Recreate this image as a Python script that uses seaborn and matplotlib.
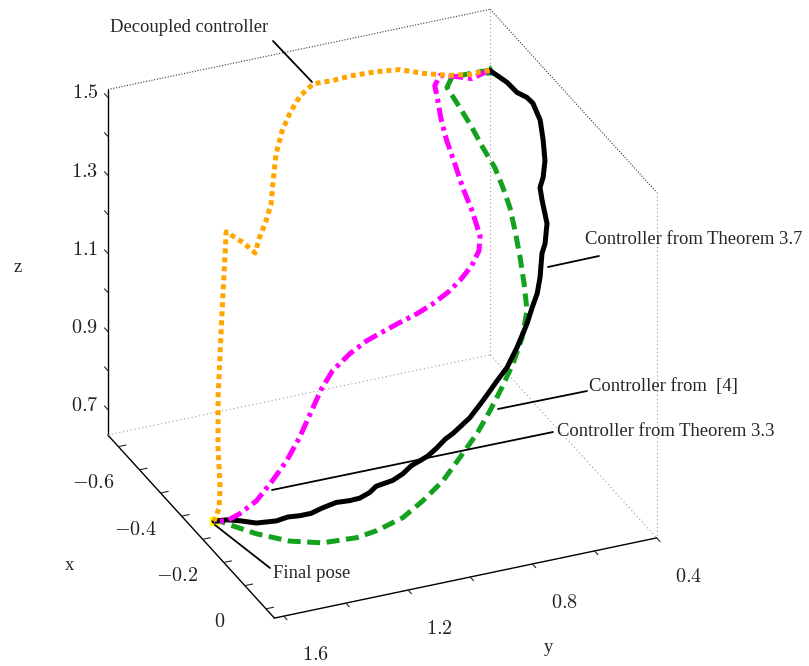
import matplotlib
matplotlib.use("Agg")
import matplotlib.pyplot as plt
from matplotlib.lines import Line2D
from mpl_toolkits.mplot3d import proj3d
import pandas as pd
import seaborn as sns

# ---- trajectories (x, y, z) from the start pose to the final pose ----
start_pose = (-0.65, 0.47, 1.435)
final_pose = (-0.35, 1.56, 0.64)

decoupled_x = [-0.65, -0.65, -0.65, -0.65, -0.65, -0.65, -0.65, -0.65, -0.65, -0.63,
               -0.61, -0.59, -0.57, -0.55, -0.53, -0.51, -0.49, -0.47, -0.45, -0.45,
               -0.45, -0.44, -0.43, -0.42, -0.40, -0.38, -0.37, -0.36, -0.35]
decoupled_y = [0.47, 0.533, 0.598, 0.685, 0.759, 0.833, 0.911, 0.975, 1.037, 1.093,
               1.138, 1.178, 1.211, 1.234, 1.254, 1.284, 1.320, 1.346, 1.398, 1.453,
               1.456, 1.469, 1.483, 1.499, 1.513, 1.520, 1.530, 1.545, 1.56]
decoupled_z = [1.435, 1.435, 1.443, 1.463, 1.485, 1.492, 1.495, 1.493, 1.495, 1.485,
               1.463, 1.433, 1.392, 1.338, 1.295, 1.268, 1.240, 1.220, 1.267, 1.304,
               1.254, 1.168, 1.061, 0.909, 0.794, 0.699, 0.656, 0.648, 0.64]

thm33_x = [-0.65, -0.65, -0.65, -0.65, -0.65, -0.64, -0.63, -0.62, -0.61, -0.60,
           -0.59, -0.58, -0.57, -0.56, -0.55, -0.54, -0.53, -0.52, -0.51, -0.50,
           -0.49, -0.48, -0.47, -0.46, -0.45, -0.44, -0.42, -0.40, -0.37, -0.35,
           -0.34, -0.35]
thm33_y = [0.47, 0.527, 0.582, 0.630, 0.646, 0.643, 0.640, 0.628, 0.609, 0.590,
           0.567, 0.548, 0.558, 0.588, 0.633, 0.679, 0.734, 0.792, 0.854, 0.909,
           0.974, 1.035, 1.097, 1.139, 1.178, 1.224, 1.279, 1.338, 1.410, 1.478,
           1.527, 1.56]
thm33_z = [1.435, 1.423, 1.438, 1.448, 1.425, 1.392, 1.352, 1.299, 1.243, 1.184,
           1.127, 1.066, 1.035, 1.008, 0.983, 0.966, 0.952, 0.942, 0.936, 0.930,
           0.921, 0.904, 0.877, 0.844, 0.800, 0.744, 0.706, 0.677, 0.655, 0.645,
           0.641, 0.64]

ref4_x = [-0.65, -0.65, -0.65, -0.65, -0.64, -0.63, -0.62, -0.61, -0.60, -0.58,
          -0.56, -0.54, -0.52, -0.50, -0.47, -0.44, -0.41, -0.38, -0.35, -0.30,
          -0.25, -0.20, -0.15, -0.11, -0.09, -0.09, -0.13, -0.20, -0.28, -0.33,
          -0.35]
ref4_y = [0.47, 0.533, 0.591, 0.607, 0.572, 0.540, 0.512, 0.480, 0.461, 0.452,
          0.449, 0.446, 0.447, 0.451, 0.487, 0.537, 0.593, 0.652, 0.714, 0.803,
          0.891, 0.990, 1.088, 1.199, 1.277, 1.387, 1.466, 1.525, 1.548, 1.556,
          1.56]
ref4_z = [1.435, 1.437, 1.437, 1.414, 1.362, 1.312, 1.262, 1.211, 1.163, 1.122,
          1.074, 1.016, 0.962, 0.905, 0.860, 0.819, 0.785, 0.753, 0.723, 0.706,
          0.691, 0.686, 0.689, 0.698, 0.705, 0.710, 0.704, 0.691, 0.668, 0.652,
          0.64]

thm37_x = [-0.65, -0.61, -0.57, -0.53, -0.50, -0.47, -0.45, -0.44, -0.44, -0.44,
           -0.43, -0.42, -0.41, -0.41, -0.40, -0.39, -0.38, -0.37, -0.35, -0.33,
           -0.31, -0.29, -0.27, -0.25, -0.24, -0.23, -0.22, -0.21, -0.20, -0.19,
           -0.185, -0.18, -0.175, -0.17, -0.17, -0.17, -0.175, -0.18, -0.19, -0.20,
           -0.22, -0.24, -0.28, -0.32, -0.34, -0.35]
thm37_y = [0.47, 0.441, 0.436, 0.431, 0.432, 0.429, 0.433, 0.434, 0.440, 0.450,
           0.450, 0.441, 0.454, 0.464, 0.477, 0.493, 0.516, 0.539, 0.585, 0.631,
           0.676, 0.735, 0.791, 0.859, 0.890, 0.924, 0.960, 0.993, 1.027, 1.061,
           1.097, 1.132, 1.157, 1.181, 1.213, 1.245, 1.285, 1.326, 1.356, 1.386,
           1.410, 1.434, 1.471, 1.499, 1.527, 1.56]
thm37_z = [1.435, 1.423, 1.420, 1.430, 1.433, 1.407, 1.368, 1.322, 1.280, 1.256,
           1.229, 1.174, 1.131, 1.107, 1.054, 1.021, 0.995, 0.964, 0.922, 0.890,
           0.876, 0.847, 0.824, 0.807, 0.804, 0.793, 0.784, 0.783, 0.782, 0.773,
           0.765, 0.765, 0.766, 0.757, 0.748, 0.747, 0.746, 0.736, 0.721, 0.714,
           0.703, 0.685, 0.662, 0.649, 0.644, 0.64]

# axis ranges and ticks
x_limits = (-0.75, 0.04)
y_limits = (0.40, 1.63)
z_limits = (0.635, 1.52)
x_ticks = [-0.7, -0.6, -0.5, -0.4, -0.3, -0.2, -0.1, 0.0]
x_tick_labels = ["", "$-0.6$", "", "$-0.4$", "", "$-0.2$", "", "$0$"]
y_ticks = [0.4, 0.6, 0.8, 1.0, 1.2, 1.4, 1.6]
y_tick_labels = ["$0.4$", "", "$0.8$", "", "$1.2$", "", "$1.6$"]
z_ticks = [0.7, 0.8, 0.9, 1.0, 1.1, 1.2, 1.3, 1.4, 1.5]
z_tick_labels = ["$0.7$", "", "$0.9$", "", "$1.1$", "", "$1.3$", "", "$1.5$"]

frames = []
for name, xs, ys, zs in [("ref4", ref4_x, ref4_y, ref4_z),
                         ("thm37", thm37_x, thm37_y, thm37_z),
                         ("thm33", thm33_x, thm33_y, thm33_z),
                         ("decoupled", decoupled_x, decoupled_y, decoupled_z)]:
    frames.append(pd.DataFrame({"controller": name, "x": xs, "y": ys, "z": zs}))
traj = pd.concat(frames, ignore_index=True)

styles = {
    "ref4": dict(color="#13a11e", lw=3.6, linestyle=(0, (2.6, 1.3))),
    "thm37": dict(color="black", lw=3.6, linestyle="-"),
    "thm33": dict(color="#ff00ff", lw=3.6, linestyle=(0, (2.9, 1.0, 0.8, 1.0))),
    "decoupled": dict(color="#ffa500", lw=3.6, linestyle=(0, (1.0, 0.8))),
}

sns.set_theme(style="white")
plt.rcParams["font.family"] = ["Liberation Serif", "DejaVu Serif"]
plt.rcParams["mathtext.fontset"] = "cm"

FW, FH = 809, 666
fig = plt.figure(figsize=(FW / 100, FH / 100), dpi=100)
side = 688
cx, cy = 373, 323
ax = fig.add_axes([(cx - side / 2) / FW, 1 - (cy + side / 2) / FH, side / FW, side / FH],
                  projection="3d")
ax.set_proj_type("ortho")
ax.view_init(elev=28.7, azim=-23.6)
ax.set_box_aspect((1.0, 1.003, 0.947), zoom=1.0)
ax.computed_zorder = False

ax.set_xlim(*x_limits)
ax.set_ylim(y_limits[1], y_limits[0])
ax.set_zlim(*z_limits)

for axis in (ax.xaxis, ax.yaxis, ax.zaxis):
    axis.set_pane_color((1, 1, 1, 0))
    axis.pane.set_edgecolor((1, 1, 1, 0))
    axis.line.set_color("black")
    axis.line.set_linewidth(1.0)
    axis._axinfo["tick"]["inward_factor"] = 0.0
    axis._axinfo["tick"]["outward_factor"] = 0.25
    axis._axinfo["tick"]["linewidth"] = {True: 0.8, False: 0.8}
    axis.label.set_visible(False)
    axis.offsetText.set_visible(False)
ax.yaxis._axinfo["tick"]["inward_factor"] = 0.25
ax.yaxis._axinfo["tick"]["outward_factor"] = 0.0
ax.grid(False)
ax.zaxis.set_ticks_position("upper")

# tick marks from the axes; the numbers are set beside them
ax.set_xticks(x_ticks)
ax.set_yticks(y_ticks)
ax.set_zticks(z_ticks)
for axis in (ax.xaxis, ax.yaxis, ax.zaxis):
    axis.set_tick_params(labelbottom=False, labeltop=False)

x0, x1 = x_limits
y0, y1 = y_limits
z0, z1 = z_limits

fig.canvas.draw()
M = ax.get_proj()
tick_kw = dict(fontsize=14.5, color="#222222", ha="center", va="center")


def tick_label(x, y, z, s):
    u, v, _ = proj3d.proj_transform(x, y, z, M)
    ax.text2D(u, v, s, **tick_kw)


for v, lab in zip(x_ticks, x_tick_labels):
    if lab:
        tick_label(v, y1 + 0.15, z0 - 0.011, lab)
for v, lab in zip(y_ticks, y_tick_labels):
    if lab:
        tick_label(x1 + 0.15, v, z0 - 0.013, lab)
for v, lab in zip(z_ticks, z_tick_labels):
    if lab:
        tick_label(x0, y1 + 0.074, v + 0.021, lab)

# box outline
dark = dict(color="#333333", lw=0.8, linestyle=(0, (1, 1.5)), zorder=1)
light = dict(color="#999999", lw=0.8, linestyle=(0, (1, 2.5)), zorder=1)
ax.plot([x0, x0], [y1, y0], [z1, z1], **dark)
ax.plot([x0, x1], [y0, y0], [z1, z1], **dark)
ax.plot([x1, x1], [y0, y0], [z1, z0], **light)
ax.plot([x0, x0], [y0, y0], [z0, z1], **light)
ax.plot([x0, x0], [y1, y0], [z0, z0], **light)
ax.plot([x0, x1], [y0, y0], [z0, z0], **light)

ax.scatter([final_pose[0]], [final_pose[1]], [final_pose[2]], marker="s", s=40,
           color="#ffff00", zorder=2, depthshade=False)
for i, (name, grp) in enumerate(traj.groupby("controller", sort=False)):
    st = styles[name]
    ax.plot(grp["x"], grp["y"], grp["z"], color=st["color"], lw=st["lw"],
            linestyle=st["linestyle"], dash_capstyle="butt", solid_capstyle="round",
            zorder=3 + i)
ax.scatter([start_pose[0]], [start_pose[1]], [start_pose[2]], marker="^", s=40,
           color="#13a11e", zorder=2, depthshade=False)


def fpos(px, py):
    return px / FW, 1 - py / FH


def leader(p, q):
    (ax_, ay_), (bx_, by_) = fpos(*p), fpos(*q)
    fig.add_artist(Line2D([ax_, bx_], [ay_, by_], transform=fig.transFigure,
                          color="black", lw=1.3))


fs = 13.4
fig.text(*fpos(110, 27), "Decoupled controller", fontsize=fs, ha="left", va="center")
leader((273, 41), (312, 82))
fig.text(*fpos(585, 240), "Controller from Theorem 3.7", fontsize=fs, ha="left", va="center")
leader((599, 256), (548, 267))
fig.text(*fpos(589, 387), "Controller from  [4]", fontsize=fs, ha="left", va="center")
leader((587, 391), (498, 409))
fig.text(*fpos(557, 432), "Controller from Theorem 3.3", fontsize=fs, ha="left", va="center")
leader((553, 432), (272, 490))
fig.text(*fpos(273, 573), "Final pose", fontsize=fs, ha="left", va="center")
leader((215, 525), (270, 568))

fig.text(*fpos(70, 565), "x", fontsize=fs, ha="center", va="center")
fig.text(*fpos(548, 648), "y", fontsize=fs, ha="center", va="center")
fig.text(*fpos(18, 268), "z", fontsize=fs, ha="center", va="center")

fig.savefig("out.png", dpi=100)
